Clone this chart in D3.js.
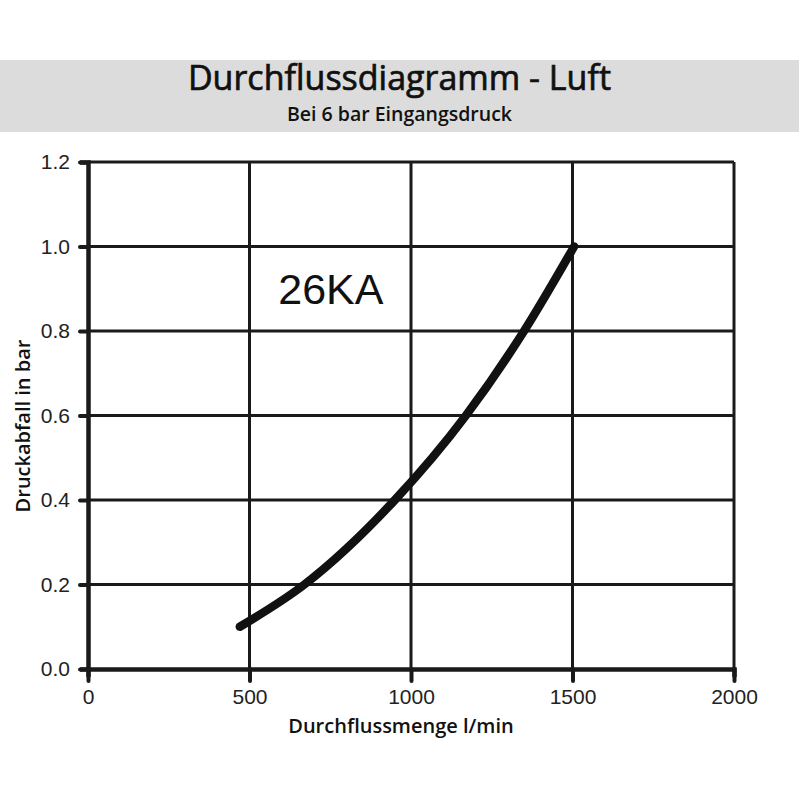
<!DOCTYPE html>
<html>
<head>
<meta charset="utf-8">
<script src="https://cdn.jsdelivr.net/npm/d3@7"></script>
<style>
  body { margin: 0; background: #fff; }
  svg { display: block; }
</style>
</head>
<body>
<svg id="chart"></svg>
<script>
const flow = [470, 670, 950, 1170, 1350, 1505];
const pressureDrop = [0.1, 0.2, 0.4, 0.6, 0.8, 1.0];
const xTicks = [0, 500, 1000, 1500, 2000];
const yTicks = [0.0, 0.2, 0.4, 0.6, 0.8, 1.0, 1.2];

function initChart() {
    const width = 799, height = 800;
    const svg = d3.select("#chart").attr("width", width).attr("height", height);
    const left = 88, right = 734, top = 162, bottom = 669;

    // header band
    svg.append("rect")
        .attr("x", 0).attr("y", 60)
        .attr("width", width).attr("height", 72)
        .attr("fill", "#dcdcdc");
    svg.append("text")
        .attr("x", width / 2).attr("y", 90)
        .attr("text-anchor", "middle")
        .style("font-family", "'Open Sans'")
        .style("font-weight", 500)
        .style("font-size", "34px")
        .attr("fill", "#111")
        .attr("stroke", "#111").attr("stroke-width", 0.7)
        .text("Durchflussdiagramm - Luft");
    svg.append("text")
        .attr("x", width / 2).attr("y", 121)
        .attr("text-anchor", "middle")
        .style("font-family", "'Open Sans'")
        .style("font-weight", 600)
        .style("font-size", "19.5px")
        .attr("fill", "#111")
        .text("Bei 6 bar Eingangsdruck");

    const x = d3.scaleLinear().domain([0, 2000]).range([left, right]);
    const y = d3.scaleLinear().domain([0, 1.2]).range([bottom, top]);

    // grid
    svg.append("g")
        .selectAll("line")
        .data(yTicks.slice(1))
        .enter()
        .append("line")
        .attr("x1", left).attr("x2", right)
        .attr("y1", d => y(d)).attr("y2", d => y(d))
        .attr("stroke", "#1a1a1a").attr("stroke-width", 3);
    svg.append("g")
        .selectAll("line")
        .data(xTicks.slice(1))
        .enter()
        .append("line")
        .attr("x1", d => x(d)).attr("x2", d => x(d))
        .attr("y1", top).attr("y2", bottom)
        .attr("stroke", "#1a1a1a").attr("stroke-width", 3);

    // axes
    const xAxis = svg.append("g")
        .attr("transform", `translate(0,${bottom})`)
        .call(d3.axisBottom(x).tickValues(xTicks).tickSize(8).tickPadding(12).tickFormat(d3.format("d")));
    const yAxis = svg.append("g")
        .attr("transform", `translate(${left},0)`)
        .call(d3.axisLeft(y).tickValues(yTicks).tickSize(8).tickPadding(10).tickFormat(d3.format(".1f")));

    [xAxis, yAxis].forEach(ax => {
        ax.select(".domain").attr("stroke", "#1a1a1a").attr("stroke-width", 4.5);
        ax.selectAll(".tick line")
            .attr("stroke", "#1a1a1a").attr("stroke-width", 4).attr("stroke-linecap", "round");
        ax.selectAll("text")
            .style("font-family", "'Liberation Sans', Arial, sans-serif")
            .style("font-size", "21px")
            .attr("fill", "#222");
    });
    xAxis.selectAll(".tick line").attr("y2", 12);
    yAxis.selectAll(".tick line").attr("x2", -8);

    // curve
    const pts = flow.map((f, i) => [f, pressureDrop[i]]);
    svg.append("path")
        .datum(pts)
        .attr("d", d3.line().x(d => x(d[0])).y(d => y(d[1])).curve(d3.curveMonotoneX))
        .attr("fill", "none")
        .attr("stroke", "#111")
        .attr("stroke-width", 8.5)
        .attr("stroke-linecap", "round");

    svg.append("text")
        .attr("x", x(752)).attr("y", y(0.863))
        .attr("text-anchor", "middle")
        .style("font-family", "'Liberation Sans', Arial, sans-serif")
        .style("font-size", "43px")
        .attr("fill", "#111")
        .text("26KA");

    // axis titles
    svg.append("text")
        .attr("x", 401).attr("y", 733)
        .attr("text-anchor", "middle")
        .style("font-family", "'Open Sans'")
        .style("font-weight", 600)
        .style("font-size", "20px")
        .attr("fill", "#111")
        .text("Durchflussmenge l/min");
    svg.append("text")
        .attr("transform", "translate(30,426) rotate(-90)")
        .attr("text-anchor", "middle")
        .style("font-family", "'Open Sans'")
        .style("font-weight", 600)
        .style("font-size", "20px")
        .attr("fill", "#111")
        .text("Druckabfall in bar");
}

document.addEventListener("DOMContentLoaded", initChart);
</script>
</body>
</html>
